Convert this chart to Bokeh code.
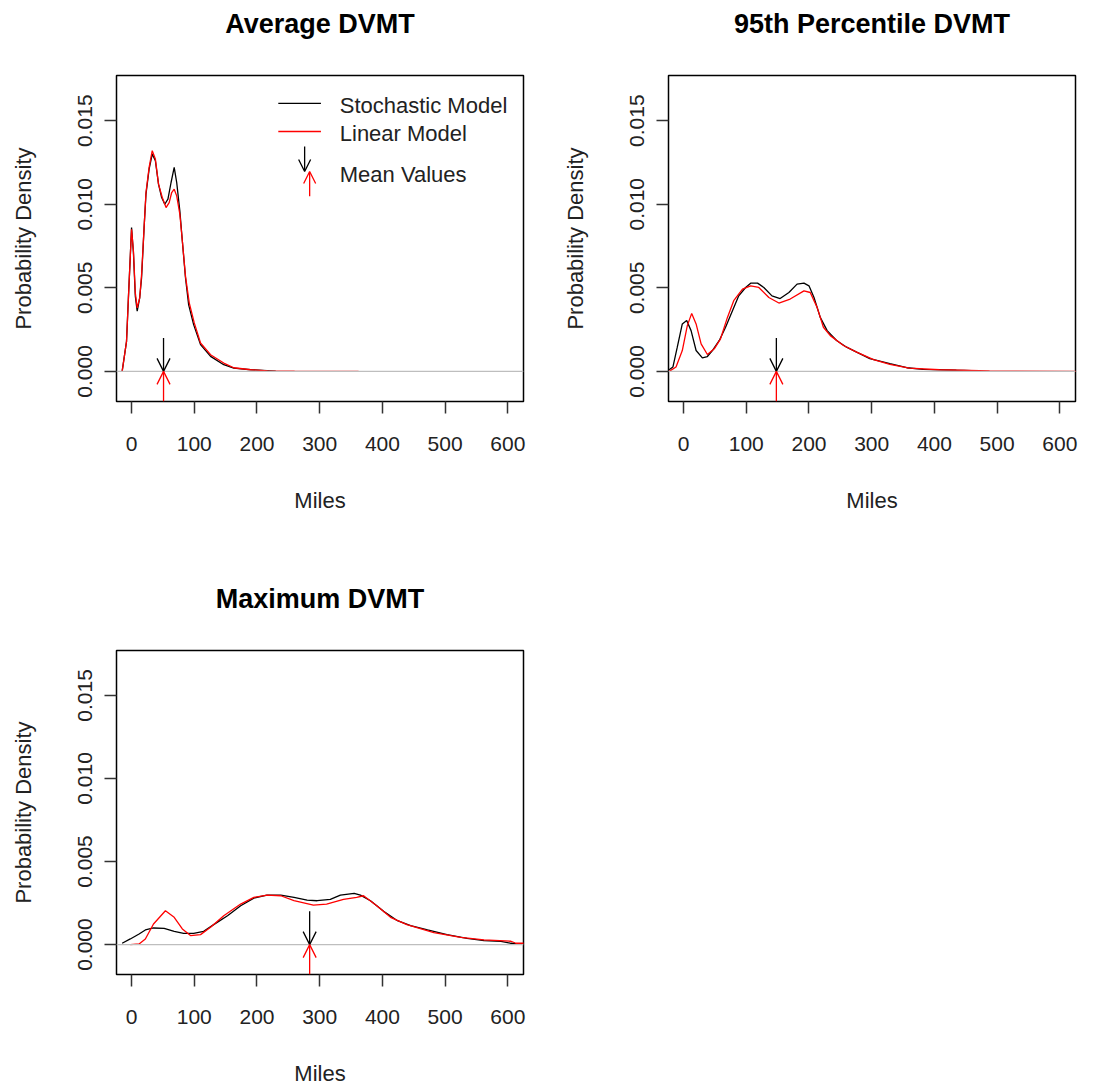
from bokeh.plotting import figure
from bokeh.layouts import gridplot
from bokeh.models import (FixedTicker, NumeralTickFormatter, Span, Arrow, OpenHead,
                          Label, Range1d)
from bokeh.embed import file_html
from bokeh.resources import INLINE

# ---------------- data ----------------
titles = ["Average DVMT", "95th Percentile DVMT", "Maximum DVMT"]
x_ticks = [0, 100, 200, 300, 400, 500, 600]
y_ticks = [0.0, 0.005, 0.010, 0.015]

avg_stoch_x = [-15, -8, -5, 0, 3, 6, 9, 13, 16, 20, 23, 28, 33, 38, 43, 48, 53, 58, 63, 68,
               72, 77, 81, 86, 91, 99, 110, 126, 147, 163, 190, 230]
avg_stoch_y = [0, 0.0018, 0.0044, 0.0086, 0.0071, 0.0045, 0.0036, 0.0044, 0.0056, 0.0086,
               0.0106, 0.0121, 0.0130, 0.0126, 0.0112, 0.0104, 0.0100, 0.0103, 0.0113, 0.0122,
               0.0113, 0.0096, 0.0078, 0.0056, 0.0040, 0.0028, 0.0016, 0.0009, 0.0004, 0.0002,
               0.0001, 0.00002]
avg_lin_x = [-15, -8, -5, 0, 3, 6, 9, 13, 16, 20, 23, 28, 33, 38, 43, 49, 55, 60, 64, 68,
             72, 77, 81, 86, 92, 100, 110, 126, 147, 163, 190, 217, 260, 362]
avg_lin_y = [0, 0.0018, 0.0044, 0.0085, 0.0072, 0.0047, 0.0038, 0.0044, 0.0058, 0.0086,
             0.0107, 0.0122, 0.0132, 0.0127, 0.0112, 0.0104, 0.0098, 0.0101, 0.0107, 0.0109,
             0.0105, 0.0094, 0.0078, 0.0057, 0.0041, 0.0029, 0.0017, 0.0010, 0.0005, 0.00022,
             0.0001, 0.00003, 0.00001, 0.0]

p95_stoch_x = [-23, -17, -10, -2, 5, 12, 20, 30, 38, 46, 57, 67, 78, 88, 99, 107, 118, 128,
               141, 154, 168, 181, 192, 200, 208, 218, 229, 244, 260, 276, 297, 329, 356, 382,
               435, 459]
p95_stoch_y = [0.0001, 0.00026, 0.00145, 0.00284, 0.00304, 0.00244, 0.00125, 0.00081, 0.00089,
               0.00125, 0.00185, 0.00264, 0.00363, 0.00452, 0.00502, 0.00528, 0.00528, 0.00502,
               0.00452, 0.00436, 0.00472, 0.00522, 0.00528, 0.00512, 0.00442, 0.00323, 0.00244,
               0.00185, 0.00145, 0.00115, 0.00076, 0.00046, 0.00022, 0.00012, 0.00007, 0.00005]
p95_lin_x = [-23, -12, -2, 6, 13, 20, 28, 38, 49, 59, 70, 80, 94, 107, 120, 136, 152, 170,
             192, 202, 213, 223, 234, 255, 276, 303, 329, 360, 408, 488, 640]
p95_lin_y = [0, 0.00026, 0.00125, 0.00274, 0.00347, 0.00284, 0.00165, 0.00101, 0.00135,
             0.00195, 0.00323, 0.00423, 0.00492, 0.00512, 0.00502, 0.00442, 0.00409, 0.00433,
             0.00482, 0.00472, 0.00383, 0.00264, 0.00214, 0.00155, 0.00115, 0.0007, 0.00042,
             0.0002, 0.0001, 0.00003, 0.0]

max_stoch_x = [-15, -2, 12, 22, 35, 52, 68, 83, 99, 115, 131, 153, 174, 195, 216, 238, 259,
               280, 296, 317, 333, 355, 365, 381, 402, 424, 445, 472, 503, 535, 562, 589, 605,
               615]
max_stoch_y = [0.00008, 0.00034, 0.00064, 0.00088, 0.001, 0.00098, 0.0008, 0.00068, 0.00068,
               0.0008, 0.0012, 0.00174, 0.00234, 0.0028, 0.00298, 0.00298, 0.00284, 0.00268,
               0.00264, 0.00272, 0.00298, 0.00308, 0.00298, 0.00264, 0.002, 0.00144, 0.00114,
               0.00088, 0.0006, 0.00038, 0.00024, 0.0002, 0.00008, 0.00004]
max_lin_x = [-2, 12, 22, 35, 54, 68, 81, 94, 110, 126, 147, 174, 195, 216, 238, 259, 290, 311,
             338, 359, 370, 391, 413, 439, 482, 525, 562, 605, 613, 640]
max_lin_y = [0, 0.00004, 0.00034, 0.00124, 0.00204, 0.00164, 0.00094, 0.00054, 0.0006,
             0.00104, 0.00174, 0.00244, 0.00284, 0.00298, 0.00294, 0.00264, 0.00238, 0.00244,
             0.00272, 0.00284, 0.00294, 0.00234, 0.00164, 0.0012, 0.00072, 0.00044, 0.00028,
             0.0002, 0.00008, 0.00008]

mean_stoch = [51, 148, 284]
mean_lin = [51, 148, 284]

legend_labels = ["Stochastic Model", "Linear Model", "Mean Values"]

# ---------------- styling ----------------
FONT = "Liberation Sans"
TXT = "#222222"
X_RANGE = (-24, 625)
Y_RANGE = (-0.0018, 0.0177)
ARROW_LEN = 0.002
CELL_W = 552
FRAME_W = 407
TITLE_H = 70      # height of the strip that carries each panel title
TITLE_FROM_TOP = 23


def make_title(text):
    t = figure(width=CELL_W, height=TITLE_H, output_backend="svg", toolbar_location=None,
               x_axis_location=None, y_axis_location=None, min_border=0,
               x_range=Range1d(0, 1), y_range=Range1d(0, 1))
    t.outline_line_color = None
    t.xgrid.grid_line_color = None
    t.ygrid.grid_line_color = None
    t.background_fill_color = "white"
    t.border_fill_color = "white"
    # the grid aligns this strip's frame with the panel frame below it
    t.add_layout(Label(x=FRAME_W / 2, y=TITLE_H - TITLE_FROM_TOP, x_units="screen",
                       y_units="screen", text=text, text_font=FONT, text_font_size="27px",
                       text_font_style="bold", text_color="black", text_align="center",
                       text_baseline="middle"))
    return t


def make_panel(sx, sy, lx, ly, m_s, m_l, height, bottom, legend=False):
    p = figure(width=CELL_W, height=height, output_backend="svg", toolbar_location=None,
               x_range=Range1d(*X_RANGE), y_range=Range1d(*Y_RANGE),
               min_border_left=116, min_border_right=29, min_border_top=5,
               min_border_bottom=bottom)

    p.outline_line_color = "black"
    p.outline_line_width = 1.5
    p.outline_line_alpha = 1
    p.xgrid.grid_line_color = None
    p.ygrid.grid_line_color = None
    p.background_fill_color = "white"
    p.border_fill_color = "white"

    for ax in (p.xaxis[0], p.yaxis[0]):
        ax.axis_line_color = None
        ax.major_tick_line_color = "#333333"
        ax.major_tick_line_width = 1.5
        ax.major_tick_out = 12
        ax.major_tick_in = 0
        ax.minor_tick_line_color = None
        ax.major_label_text_font = FONT
        ax.major_label_text_font_size = "21px"
        ax.major_label_text_color = TXT
        ax.axis_label_text_font = FONT
        ax.axis_label_text_font_size = "22px"
        ax.axis_label_text_font_style = "normal"
        ax.axis_label_text_color = TXT

    p.xaxis.ticker = FixedTicker(ticks=x_ticks)
    p.xaxis.axis_label = "Miles"
    p.xaxis.major_label_standoff = 23
    p.xaxis.axis_label_standoff = 34

    p.yaxis.ticker = FixedTicker(ticks=y_ticks)
    p.yaxis.formatter = NumeralTickFormatter(format="0.000")
    p.yaxis.major_label_orientation = "vertical"
    p.yaxis.axis_label = "Probability Density"
    p.yaxis.major_label_standoff = 12
    p.yaxis.axis_label_standoff = 40

    p.add_layout(Span(location=0, dimension="width", line_color="#bebebe", line_width=1.3))

    p.line(sx, sy, line_color="black", line_width=1.3)
    p.line(lx, ly, line_color="red", line_width=1.3)

    p.add_layout(Arrow(end=OpenHead(size=13, line_color="black", line_width=1.3),
                       x_start=m_s, y_start=ARROW_LEN, x_end=m_s, y_end=0,
                       line_color="black", line_width=1.3))
    p.add_layout(Arrow(end=OpenHead(size=13, line_color="red", line_width=1.3),
                       x_start=m_l, y_start=Y_RANGE[0], x_end=m_l, y_end=0,
                       line_color="red", line_width=1.3))

    if legend:
        xl0, xl1, xt = 234, 302, 332
        ys = [0.01603, 0.01435]
        cols = ["black", "red"]
        for yy, c, lab in zip(ys, cols, legend_labels[:2]):
            p.segment(x0=[xl0], y0=[yy], x1=[xl1], y1=[yy], line_color=c, line_width=1.3)
            p.add_layout(Label(x=xt, y=yy - 0.00012, text=lab, text_font=FONT,
                               text_font_size="22px", text_color=TXT, text_baseline="middle"))
        p.add_layout(Arrow(end=OpenHead(size=12, line_color="black", line_width=1.3),
                           x_start=276, y_start=0.01345, x_end=276, y_end=0.01196,
                           line_color="black", line_width=1.3))
        p.add_layout(Arrow(end=OpenHead(size=12, line_color="red", line_width=1.3),
                           x_start=284, y_start=0.01048, x_end=284, y_end=0.01196,
                           line_color="red", line_width=1.3))
        p.add_layout(Label(x=xt, y=0.01176, text=legend_labels[2], text_font=FONT,
                           text_font_size="22px", text_color=TXT, text_baseline="middle"))
    return p


t1, t2, t3 = (make_title(s) for s in titles)
p1 = make_panel(avg_stoch_x, avg_stoch_y, avg_lin_x, avg_lin_y,
                mean_stoch[0], mean_lin[0], 505, 174, legend=True)
p2 = make_panel(p95_stoch_x, p95_stoch_y, p95_lin_x, p95_lin_y,
                mean_stoch[1], mean_lin[1], 505, 174)
p3 = make_panel(max_stoch_x, max_stoch_y, max_lin_x, max_lin_y,
                mean_stoch[2], mean_lin[2], 443, 112)

grid = gridplot([[t1, t2], [p1, p2], [t3, None], [p3, None]], toolbar_location=None)

open("out.html", "w").write(file_html(grid, INLINE))
